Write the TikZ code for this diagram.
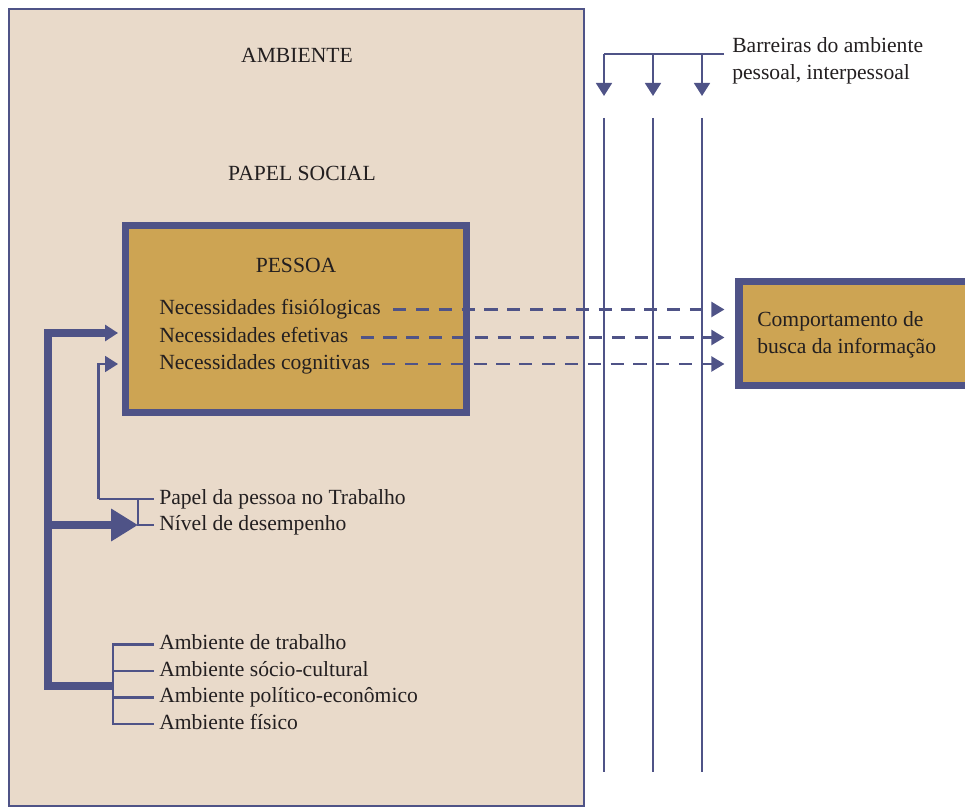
\documentclass[tikz,border=0pt]{standalone}
\usepackage{fontspec}
\setmainfont{Liberation Serif}
\usetikzlibrary{arrows.meta,positioning}
\definecolor{azul}{HTML}{4F5387}
\definecolor{bege}{HTML}{E9DACA}
\definecolor{ouro}{HTML}{CDA453}
\definecolor{tinta}{HTML}{231F20}
\tikzset{%
	ambiente/.style  = {draw=azul, fill=bege, line width=1.4pt},
	caixa/.style     = {draw=azul, fill=ouro, line width=4.3pt, inner sep=0pt},
	rotulo/.style    = {anchor=west, inner xsep=2.8pt, inner ysep=0pt, text height=8.6pt, text depth=2.7pt},
	bloco/.style     = {anchor=west, align=left, inner xsep=2.8pt, inner ysep=0pt},
	fino/.style      = {draw=azul, line width=1.3pt},
	grosso/.style    = {draw=azul, line width=4.2pt, line join=miter},
	seta/.style      = {-{Triangle[length=7.4pt,width=9pt]}},
	setagrande/.style= {-{Triangle[length=15.3pt,width=17.6pt]}},
	tracejado/.style = {fino, dash pattern=on 7.5pt off 5.5pt, -{Triangle[length=7.4pt,width=8.5pt]}},
}
\begin{document}
\begin{tikzpicture}[x=0.02cm, y=-0.02cm, font=\fontsize{12.3}{15.3}\selectfont, text=tinta]
	\clip (0,0) rectangle (965,807);
	% fundo do ambiente
	\draw[ambiente] (9,9) rectangle (584,806);
	\node (ambiente) at (297,55) {AMBIENTE};
	\node (papelsocial) at (302,173) {PAPEL SOCIAL};
	% pessoa
	\node[caixa, minimum width=6.82cm, minimum height=3.74cm] (pessoa) at (296,319) {};
	\node (titulo) at (296,265) {PESSOA};
	\node[rotulo] (fisio) at (154,309.5) {Necessidades fisiólogicas};
	\node[rotulo] (efetiva) at (154,337.5) {Necessidades efetivas};
	\node[rotulo] (cognitiva) at (154,364) {Necessidades cognitivas};
	% comportamento
	\node[caixa, anchor=west, minimum width=8cm, minimum height=2.08cm] (busca) at (735,333.3) {};
	\node[bloco] (buscatexto) at (752,335) {Comportamento de\\busca da informação};
	% barreiras
	\node[bloco] (barreiras) at (727,61) {Barreiras do ambiente\\pessoal, interpessoal};
	\coordinate (topo) at (724,54);
	\draw[fino] (topo) -- (604,54);
	\foreach \x/\n in {604/a,653/b,702/c}{
		\coordinate (\n0) at (\x,54);
		\coordinate (\n1) at (\x,96);
		\coordinate (\n2) at (\x,118);
		\coordinate (\n3) at (\x,772);
		\draw[fino,seta] (\n0) -- (\n1);
		\draw[fino] (\n2) -- (\n3);
	}
	% necessidades -> comportamento
	\draw[tracejado, shorten <=4pt, shorten >=6pt] (fisio.east) -- (fisio.east -| busca.west);
	\draw[tracejado, shorten <=4pt, shorten >=6pt] (efetiva.east) -- (efetiva.east -| busca.west);
	\draw[tracejado, shorten <=4pt, shorten >=6pt] (cognitiva.east) -- (cognitiva.east -| busca.west);
	% trabalho
	\node[rotulo] (papel) at (154,499) {Papel da pessoa no Trabalho};
	\node[rotulo] (nivel) at (154,525) {Nível de desempenho};
	\coordinate (f1) at (98.5,364);
	\coordinate (f2) at (98.5,499);
	\coordinate (chave) at (138,499);
	\coordinate (chaveb) at (138,525);
	\draw[fino, seta, shorten >=2.1pt] (f2) -- (f1) -- (f1 -| pessoa.west);
	\draw[fino] (f2) -- (papel.west);
	\draw[fino] (chave) -- (chaveb) -- (nivel.west);
	% ambientes
	\node[rotulo] (trabalho) at (154,644.5) {Ambiente de trabalho};
	\node[rotulo] (socio) at (154,671) {Ambiente sócio-cultural};
	\node[rotulo] (politico) at (154,697.5) {Ambiente político-econômico};
	\node[rotulo] (fisico) at (154,724) {Ambiente físico};
	\coordinate (b1) at (113,644.5);
	\coordinate (b2) at (113,724);
	\draw[fino] (trabalho.west) -- (b1) -- (b2) -- (fisico.west);
	\draw[fino] (b1 |- socio.west) -- (socio.west);
	\draw[fino] (b1 |- politico.west) -- (politico.west);
	% linha grossa
	\coordinate (g0) at (113,686);
	\coordinate (g1) at (48,686);
	\coordinate (g2) at (48,333);
	\coordinate (g3) at (48,525);
	\draw[grosso, seta, shorten >=2.1pt] (g0) -- (g1) -- (g2) -- (g2 -| pessoa.west);
	\draw[grosso, setagrande] (g3) -- (chaveb);
\end{tikzpicture}
\end{document}
